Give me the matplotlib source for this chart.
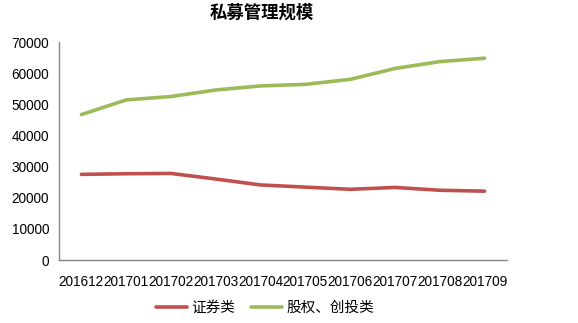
import matplotlib
matplotlib.use("Agg")
import matplotlib.pyplot as plt

categories = ["201612", "201701", "201702", "201703", "201704",
              "201705", "201706", "201707", "201708", "201709"]
securities = [27500, 27700, 27800, 26000, 24100, 23400, 22700, 23300, 22400, 22100]
equity_vc = [46700, 51400, 52500, 54600, 55900, 56400, 58000, 61500, 63700, 64800]
yticks = [0, 10000, 20000, 30000, 40000, 50000, 60000, 70000]

plt.rcParams['font.family'] = ['Liberation Sans', 'Noto Sans CJK SC', 'DejaVu Sans']

fig = plt.figure(figsize=(5.78, 3.23), dpi=100)
ax = fig.add_axes([59/578, 1-260/323, 448/578, 218/323])

x = list(range(len(categories)))
l1, = ax.plot(x, securities, color="#C0504D", lw=2.6, solid_joinstyle="round",
              solid_capstyle="round", label="证券类")
l2, = ax.plot(x, equity_vc, color="#9BBB59", lw=2.6, solid_joinstyle="round",
              solid_capstyle="round", label="股权、创投类")

ax.set_xlim(-0.5, len(categories) - 0.5)
ax.set_ylim(0, 70000)
ax.set_yticks(yticks)
ax.set_yticklabels([str(v) for v in yticks])
ax.set_xticks(x)
ax.set_xticklabels(categories)
ax.tick_params(axis='both', length=0, labelsize=9.8, colors="black")
ax.tick_params(axis='y', pad=7)
ax.tick_params(axis='x', pad=11)
for s in ["top", "right"]:
    ax.spines[s].set_visible(False)
for s in ["left", "bottom"]:
    ax.spines[s].set_color("#868686")
    ax.spines[s].set_linewidth(1.0)

fig.text(262/578, 1-13/323, "私募管理规模", ha="center", va="center",
         fontsize=12.5, fontweight="bold", family=["Noto Sans CJK SC"])

leg = fig.legend(handles=[l1, l2], loc="center", bbox_to_anchor=(265/578, 1-308/323),
                 ncol=2, frameon=False, prop={"family": ["Noto Sans CJK SC"], "size": 10.5},
                 handlelength=2.1, handletextpad=0.3, columnspacing=1.1)

fig.savefig("out.png", dpi=100)
